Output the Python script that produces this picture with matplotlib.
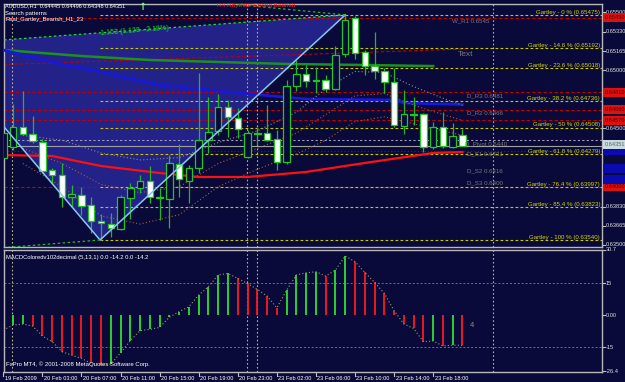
import numpy as np
import matplotlib
matplotlib.use("Agg")
import matplotlib.pyplot as plt
from matplotlib.patches import Polygon, Rectangle

plt.rcParams['font.family'] = ['Liberation Sans', 'DejaVu Sans']

W, H = 625, 382
BG = '#0a0a3a'

# AUDUSD H1 candles, bar 0 = 19 Feb 23:00
opens = [0.64247, 0.64341, 0.64513, 0.64453, 0.64384, 0.64144, 0.64101, 0.63912, 0.63929, 0.63843,
         0.63706, 0.63680, 0.63637, 0.63903, 0.63989, 0.64049, 0.63912, 0.63895, 0.64195, 0.64049,
         0.64161, 0.64401, 0.64479, 0.64685, 0.64590, 0.64255, 0.64461, 0.64461, 0.64410, 0.64212,
         0.64865, 0.64968, 0.64916, 0.64916, 0.64839, 0.65139, 0.65448, 0.65157, 0.65036, 0.64994,
         0.64899, 0.64521, 0.64624, 0.64624, 0.64341, 0.64513, 0.64341, 0.64445]
highs = [0.64530, 0.64710, 0.64822, 0.64607, 0.64410, 0.64161, 0.64204, 0.64015, 0.63998, 0.63912,
         0.63766, 0.63775, 0.63929, 0.64032, 0.64101, 0.64178, 0.63989, 0.64272, 0.64367, 0.64187,
         0.64976, 0.64770, 0.64796, 0.64745, 0.64676, 0.64487, 0.64513, 0.64702, 0.64487, 0.64916,
         0.65088, 0.65045, 0.65028, 0.64959, 0.65208, 0.65475, 0.65466, 0.65174, 0.65328, 0.65019,
         0.65019, 0.64830, 0.64770, 0.64633, 0.64556, 0.64642, 0.64547, 0.64496]
lows = [0.64230, 0.64315, 0.64444, 0.64376, 0.64118, 0.64024, 0.63826, 0.63826, 0.63757, 0.63603,
        0.63543, 0.63569, 0.63629, 0.63723, 0.63946, 0.63860, 0.63714, 0.63647, 0.63912, 0.63860,
        0.64118, 0.64290, 0.64444, 0.64427, 0.64418, 0.64247, 0.64358, 0.64393, 0.64144, 0.64195,
        0.64822, 0.64856, 0.64805, 0.64813, 0.64830, 0.65114, 0.65097, 0.64959, 0.64925, 0.64805,
        0.64513, 0.64453, 0.64530, 0.64298, 0.64324, 0.64333, 0.64333, 0.64348]
closes = [0.64461, 0.64513, 0.64453, 0.64393, 0.64135, 0.64101, 0.63912, 0.63938, 0.63835, 0.63706,
          0.63688, 0.63647, 0.63912, 0.63989, 0.64049, 0.63912, 0.63903, 0.64204, 0.64066, 0.64161,
          0.64401, 0.64470, 0.64685, 0.64599, 0.64496, 0.64461, 0.64453, 0.64401, 0.64212, 0.64865,
          0.64968, 0.64908, 0.64908, 0.64839, 0.65131, 0.65431, 0.65148, 0.65036, 0.64994, 0.64899,
          0.64530, 0.64624, 0.64620, 0.64341, 0.64513, 0.64350, 0.64436, 0.64351]

# moving averages (bar, price)
blue_ma_x = [0, 4, 10, 16, 23, 31, 40, 41, 44, 47]
blue_ma_y = [0.65174, 0.65088, 0.64985, 0.64873, 0.64813, 0.64753, 0.64745, 0.64719, 0.64712, 0.64706]
green_ma_x = [0, 8, 15, 22, 29, 37, 44]
green_ma_y = [0.65174, 0.65122, 0.65088, 0.65071, 0.65054, 0.65045, 0.65036]
red_ma_x = [0, 5, 10, 16, 20, 25, 31, 37, 44, 47]
red_ma_y = [0.64272, 0.64264, 0.64178, 0.64118, 0.64084, 0.64084, 0.64127, 0.64204, 0.64290, 0.64298]

# dotted bands (bar, price)
band_up_x = [2, 6, 10, 14, 18, 22, 26, 30, 33, 36, 39, 42, 45, 47]
band_up_y = [0.64440, 0.64400, 0.64290, 0.64230, 0.64250, 0.64380, 0.64480, 0.64640, 0.64840, 0.64990, 0.64980, 0.64860, 0.64760, 0.64700]
band_mid_x = [2, 6, 10, 14, 18, 22, 26, 30, 33, 36, 39, 42, 45, 47]
band_mid_y = [0.64330, 0.64200, 0.64020, 0.63950, 0.64000, 0.64200, 0.64330, 0.64460, 0.64620, 0.64780, 0.64800, 0.64700, 0.64620, 0.64570]
band_lo_x = [2, 6, 10, 14, 18, 22, 26, 30, 33, 36, 39, 42, 45, 47]
band_lo_y = [0.64200, 0.64000, 0.63750, 0.63680, 0.63760, 0.64000, 0.64150, 0.64280, 0.64400, 0.64560, 0.64600, 0.64540, 0.64480, 0.64440]

# Gartley B-C-D triangle
pat_x = [-7.05, 9.9, 35.0]
pat_y = [0.65217, 0.63543, 0.65475]

gartley_pct = ['0', '14.6', '23.6', '38.2', '50', '61.8', '76.4', '85.4', '100']
gartley_lvl = [0.65475, 0.65192, 0.65018, 0.64736, 0.64508, 0.64279, 0.63997, 0.63823, 0.63540]

pivot_names = ['W_R1 0.6545', 'D_R3 0.6481', 'D_R2 0.6466', 'D_S1 0.6431', 'D_S2 0.6416', 'D_S3 0.6400']
pivot_lvl = [0.6545, 0.6481, 0.6466, 0.6431, 0.6416, 0.6406]
red_lines = [0.6545, 0.6481, 0.6466, 0.6457, 0.6400]
pivot_line = 0.6440
bid = 0.64351

price_ticks = [0.65500, 0.65330, 0.65165, 0.65000, 0.64500, 0.63830, 0.63665, 0.63500]
red_boxes = [0.65450, 0.64810, 0.64660, 0.64570, 0.64000]
blue_boxes = [0.64310, 0.64160, 0.64060]

# MACD histogram
macd = [-7.0, -4.7, -4.2, -5.2, -9.8, -12.5, -17.2, -18.8, -20.3, -22.7,
        -23.4, -23.0, -17.7, -12.0, -7.3, -6.7, -5.8, -1.0, 1.6, 3.9,
        9.4, 13.3, 18.8, 19.5, 17.2, 14.8, 12.0, 8.9, 3.4, 11.7,
        18.8, 19.8, 20.3, 18.3, 21.1, 27.7, 25.0, 20.0, 15.3, 10.2,
        2.0, -4.2, -6.3, -12.5, -12.2, -14.5, -14.1, -14.2]
macd_ticks = [30.7, 15, 0, -15, -26.4]
macd_tick_labels = ['30.7', '15', '0.00', '-15', '-26.4']

time_pos = [0, 4, 8, 12, 16, 20, 24, 28, 32, 36, 40, 44]
time_labels = ['19 Feb 2009', '20 Feb 03:00', '20 Feb 07:00', '20 Feb 11:00', '20 Feb 15:00',
               '20 Feb 19:00', '20 Feb 23:00', '23 Feb 02:00', '23 Feb 06:00', '23 Feb 10:00',
               '23 Feb 14:00', '23 Feb 18:00']
separators = [0.86, 24.94, 25.97, 50.12]

fig = plt.figure(figsize=(W / 100, H / 100), dpi=100, facecolor=BG)


def rect(x0, y0, x1, y1):
    return [x0 / W, 1 - y1 / H, (x1 - x0) / W, (y1 - y0) / H]


ax = fig.add_axes(rect(4, 4, 602, 247), facecolor=BG)
ax2 = fig.add_axes(rect(4, 250, 602, 372), facecolor=BG)
XL = (0.07, 61.28)
for a in (ax, ax2):
    a.set_xlim(*XL)
    a.set_xticks([])
    a.set_yticks([])
    for s in a.spines.values():
        s.set_color('#b8b8b8')
        s.set_linewidth(1.0)
ax.set_ylim(0.634828, 0.655687)
ax2.set_ylim(-26.7, 30.5)

# pattern fill
ax.add_patch(Polygon(list(zip(pat_x, pat_y)), closed=True, facecolor='#222288',
                     edgecolor='none', zorder=1))
ax.plot(pat_x, pat_y, color='#87c8f0', lw=1.1, zorder=6)
ax.plot([pat_x[0], pat_x[2]], [pat_y[0], pat_y[2]], color='#22dd22', lw=0.9, ls=(0, (2, 2)), zorder=6)
ax.plot([pat_x[1], -1.0], [pat_y[1], 0.63470], color='#22bb22', lw=0.9, ls=(0, (2, 2)), zorder=6)
ax.plot([pat_x[2], 15.0], [pat_y[2], 0.65637], color='#22bb22', lw=0.9, ls=(0, (2, 2)), zorder=6)
ax.text(13.5, 0.65336, '1.153 (1.128 - 2.18%)', color='#22dd22', fontsize=5.0,
        rotation=4.5, ha='center', va='center', zorder=7)

# horizontal levels
for lv in red_lines:
    ax.axhline(lv, color='#c00000', lw=0.8, ls=(0, (3, 2)), zorder=2)
ax.plot([0, 47.3], [0.65049, 0.65183], color='#c00000', lw=0.8, ls=(0, (3, 2)), zorder=2)
ax.axhline(pivot_line, color='#9a9ab0', lw=0.8, ls=(0, (2, 2)), zorder=2)
ax.axhline(0.6431, color='#2020d0', lw=0.8, ls=(0, (1, 2)), zorder=2)
ax.axhline(bid, color='#a0a0a0', lw=0.8, zorder=2)
for pct, lv in zip(gartley_pct, gartley_lvl):
    ax.plot([pat_x[1], XL[1]], [lv, lv], color='#c8c800', lw=0.8, ls=(0, (2.5, 2)), zorder=2)
    ax.text(61.1, lv + 0.00002, 'Gartley - %s %% (%.5f)' % (pct, lv), color='#d4d400',
            fontsize=4.4, ha='right', va='bottom', zorder=8)

for name, lv in zip(pivot_names, pivot_lvl):
    ax.text(45.9 if name.startswith('W') else 47.5, lv - 0.00004, name, color='#7a7a7a',
            fontsize=4.4, ha='left', va='top', zorder=8)
ax.text(47.3, 0.65138, 'Text', color='#7a7a7a', fontsize=6, ha='center', va='center', zorder=8)
ax.text(47.3, 0.64392, 'D_Pivot 0.6440', color='#7a7a7a', fontsize=4.4, ha='left', va='top', zorder=8)

# separators
for a in (ax, ax2):
    for s in separators:
        a.axvline(s, color='#b4b48a', lw=0.8, ls=(0, (1.5, 2)), zorder=2)

# moving averages and bands
ax.plot(green_ma_x, green_ma_y, color='#1f8f1f', lw=1.8, zorder=3)
ax.plot(blue_ma_x, blue_ma_y, color='#1818d8', lw=2.0, zorder=3)
ax.plot(red_ma_x, red_ma_y, color='#ff1010', lw=1.6, zorder=3)
ax.plot(band_up_x, band_up_y, color='#8a8a8a', lw=0.8, ls=(0, (1, 2)), zorder=3)
ax.plot(band_mid_x, band_mid_y, color='#a0602a', lw=0.8, ls=(0, (1, 2)), zorder=3)
ax.plot(band_lo_x, band_lo_y, color='#a0602a', lw=0.8, ls=(0, (1, 2)), zorder=3)

# candles
idx = np.arange(len(opens))
o = np.array(opens); c = np.array(closes)
ax.vlines(idx, lows, highs, color='#22b822', lw=0.9, zorder=4)
bull = c >= o
body = np.maximum(np.abs(c - o), 0.00002)
ax.bar(idx[bull], body[bull], bottom=np.minimum(o, c)[bull], width=0.66,
       color=BG, edgecolor='#22c822', lw=0.9, zorder=5)
ax.bar(idx[~bull], body[~bull], bottom=np.minimum(o, c)[~bull], width=0.66,
       color='white', edgecolor='#22c822', lw=0.9, zorder=5)

# right price scale
tr = ax.get_yaxis_transform()
for p in price_ticks:
    ax.plot([1.0, 1.005], [p, p], color='#c0c0c0', lw=0.8, transform=tr, clip_on=False)
    ax.text(1.006, p, '%.5f' % p, color='#e0e0e0', fontsize=4.1, ha='left', va='center',
            transform=tr, clip_on=False)
for p in red_boxes:
    ax.add_patch(Rectangle((1.002, p - 0.00038), 0.05, 0.00076, transform=tr, clip_on=False,
                           facecolor='#e01010', edgecolor='none', zorder=9))
    ax.text(1.005, p, '%.5f' % p, color='#500000', fontsize=4.1, ha='left', va='center',
            transform=tr, clip_on=False, zorder=10)
for p in blue_boxes:
    ax.add_patch(Rectangle((1.002, p - 0.00038), 0.05, 0.00076, transform=tr, clip_on=False,
                           facecolor='#0a0ab0', edgecolor='none', zorder=9))
ax.add_patch(Rectangle((1.002, 0.64362 - 0.00040), 0.05, 0.00080, transform=tr, clip_on=False,
                       facecolor='#c8dce0', edgecolor='none', zorder=9))
ax.text(1.005, 0.64362, '%.5f' % bid, color='#606060', fontsize=4.1, ha='left', va='center',
        transform=tr, clip_on=False, zorder=10)

# header texts
fig.text(5 / W, 1 - 6 / H, 'AUDUSD,H1  0.64445 0.64496 0.64348 0.64351', color='white',
         fontsize=4.0, va='center')
fig.text(5 / W, 1 - 13 / H, 'Search patterns', color='white', fontsize=4.2, va='center')
fig.text(5 / W, 1 - 20 / H, 'Real_Gartley_Bearish_H1_23', color='white', fontsize=4.2, va='center')
fig.text(142 / W, 1 - 7 / H, '\u2191', color='#7cfc7c', fontsize=7, va='center', ha='center',
         family='DejaVu Sans', weight='bold')
fig.text(217 / W, 1 - 6 / H, 'H4 Rhythm=Strong Bearish', color='#ff1a1a', fontsize=4.6, va='center')

# MACD panel
col = ['#ff1a1a' if i == 0 or macd[i] < macd[i - 1] else '#2ee02e' for i in range(len(macd))]
ax2.vlines(idx, 0, macd, colors=col, lw=1.3, zorder=3)
ax2.plot(idx, macd, color='#9a9a6a', lw=0.8, ls=(0, (1, 2)), zorder=4)
for v in (15, -15):
    ax2.axhline(v, color='#707070', lw=0.7, ls=(0, (2, 2)), zorder=1)
tr2 = ax2.get_yaxis_transform()
for v, lab in zip(macd_ticks, macd_tick_labels):
    ax2.plot([1.0, 1.005], [v, v], color='#c0c0c0', lw=0.8, transform=tr2, clip_on=False)
    ax2.text(1.006, v, lab, color='#e0e0e0', fontsize=4.1, ha='left', va='center',
             transform=tr2, clip_on=False)
ax2.text(0.003, 0.96, 'MACDColoredv102decimal (5,13,1) 0.0 -14.2 0.0 -14.2', color='white',
         fontsize=4.2, transform=ax2.transAxes, va='top')
ax2.text(0.003, 0.04, 'FxPro MT4, \u00a9 2001-2008 MetaQuotes Software Corp.', color='white',
         fontsize=4.3, transform=ax2.transAxes, va='bottom')
ax2.text(48.0, -5.0, '4', color='#8a8a8a', fontsize=5.5, ha='center', va='center')

# time axis
trx = ax2.get_xaxis_transform()
for p, lab in zip(time_pos, time_labels):
    ax2.plot([p, p], [0, -0.03], color='#c0c0c0', lw=0.8, transform=trx, clip_on=False)
    ax2.text(p + 0.15, -0.03, lab, color='white', fontsize=4.1, ha='left', va='top',
             transform=trx, clip_on=False)

fig.savefig('out.png', dpi=100, facecolor=BG)
